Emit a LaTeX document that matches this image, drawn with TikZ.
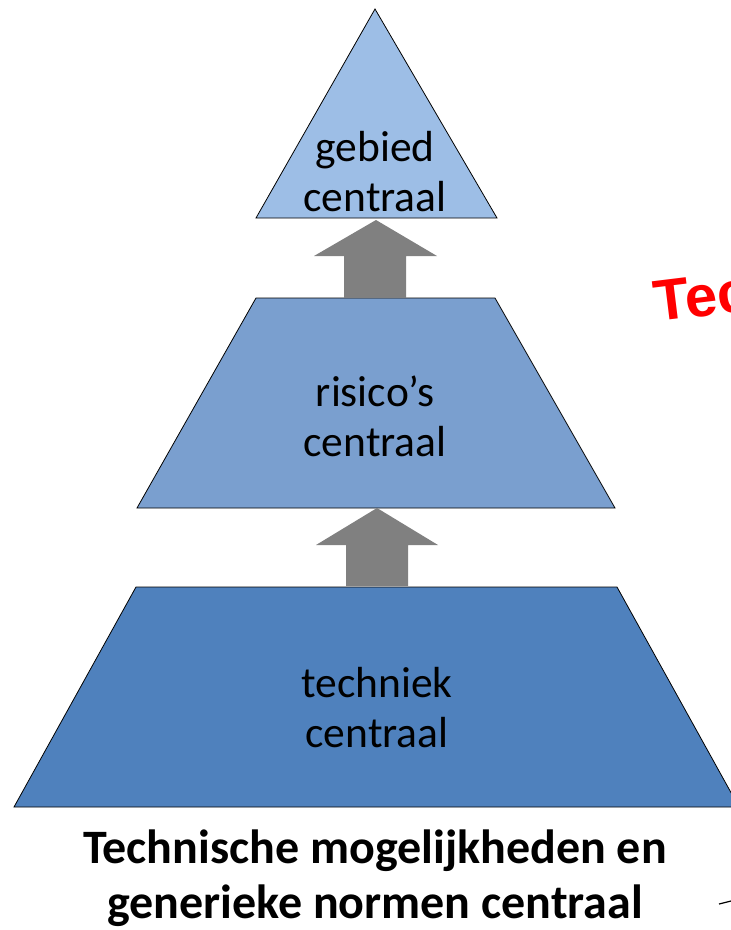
\documentclass[tikz,border=0pt]{standalone}
\usepackage{fontspec}
\setmainfont{Carlito}
\newfontfamily\redfont{Liberation Sans}
\usepackage{tikz}
\definecolor{topblue}{RGB}{157,190,230}
\definecolor{midblue}{RGB}{122,159,207}
\definecolor{lowblue}{RGB}{79,129,189}
\definecolor{upgray}{RGB}{128,128,128}

\begin{document}
\begin{tikzpicture}[x=1pt,y=-1pt,
  tier/.style={draw=black,line width=0.8pt,line join=miter},
  upper/.style={fill=upgray,draw=none},
  lbl/.style={align=center,font=\fontsize{43.5}{50}\selectfont,inner sep=0pt}]

\useasboundingbox (0,0) rectangle (731,930);
\clip (0,0) rectangle (731,930);

% pyramid
\draw [tier,fill=topblue] (375,9) -- (497,218) -- (256,218) -- cycle;
\draw [tier,fill=midblue] (256,298) -- (495,298) -- (615,508) -- (137,508) -- cycle;
\draw [tier,fill=lowblue] (136,587) -- (617,587) -- (739,807) -- (14,807) -- cycle;

% arrows
\fill [upper] (376,220) -- (437,256) -- (406,256) -- (406,298) -- (344,298) -- (344,256) -- (314,256) -- cycle;
\fill [upper] (377,508) -- (438,545) -- (408,545) -- (408,586) -- (346,586) -- (346,545) -- (316,545) -- cycle;

\node [lbl] (gebied) at (375,172) {gebied\\centraal};
\node [lbl] (risico) at (375,416) {risico’s\\centraal};
\node [lbl] (techniek) at (377,708) {techniek\\centraal};

\node [align=center,font=\fontsize{48}{55}\selectfont\bfseries,inner sep=0pt] (titel) at (375,878) {Technische mogelijkheden en\\generieke normen centraal};

\node [anchor=base west,rotate=7,text=red,font=\redfont\fontsize{58}{60}\selectfont\bfseries,inner sep=0pt] (tec) at (656,322) {Tec};

\coordinate (pijlA) at (719,904);
\coordinate (pijlB) at (731,901);
\draw [line width=1.2pt] (pijlA) -- (pijlB);
\end{tikzpicture}
\end{document}
